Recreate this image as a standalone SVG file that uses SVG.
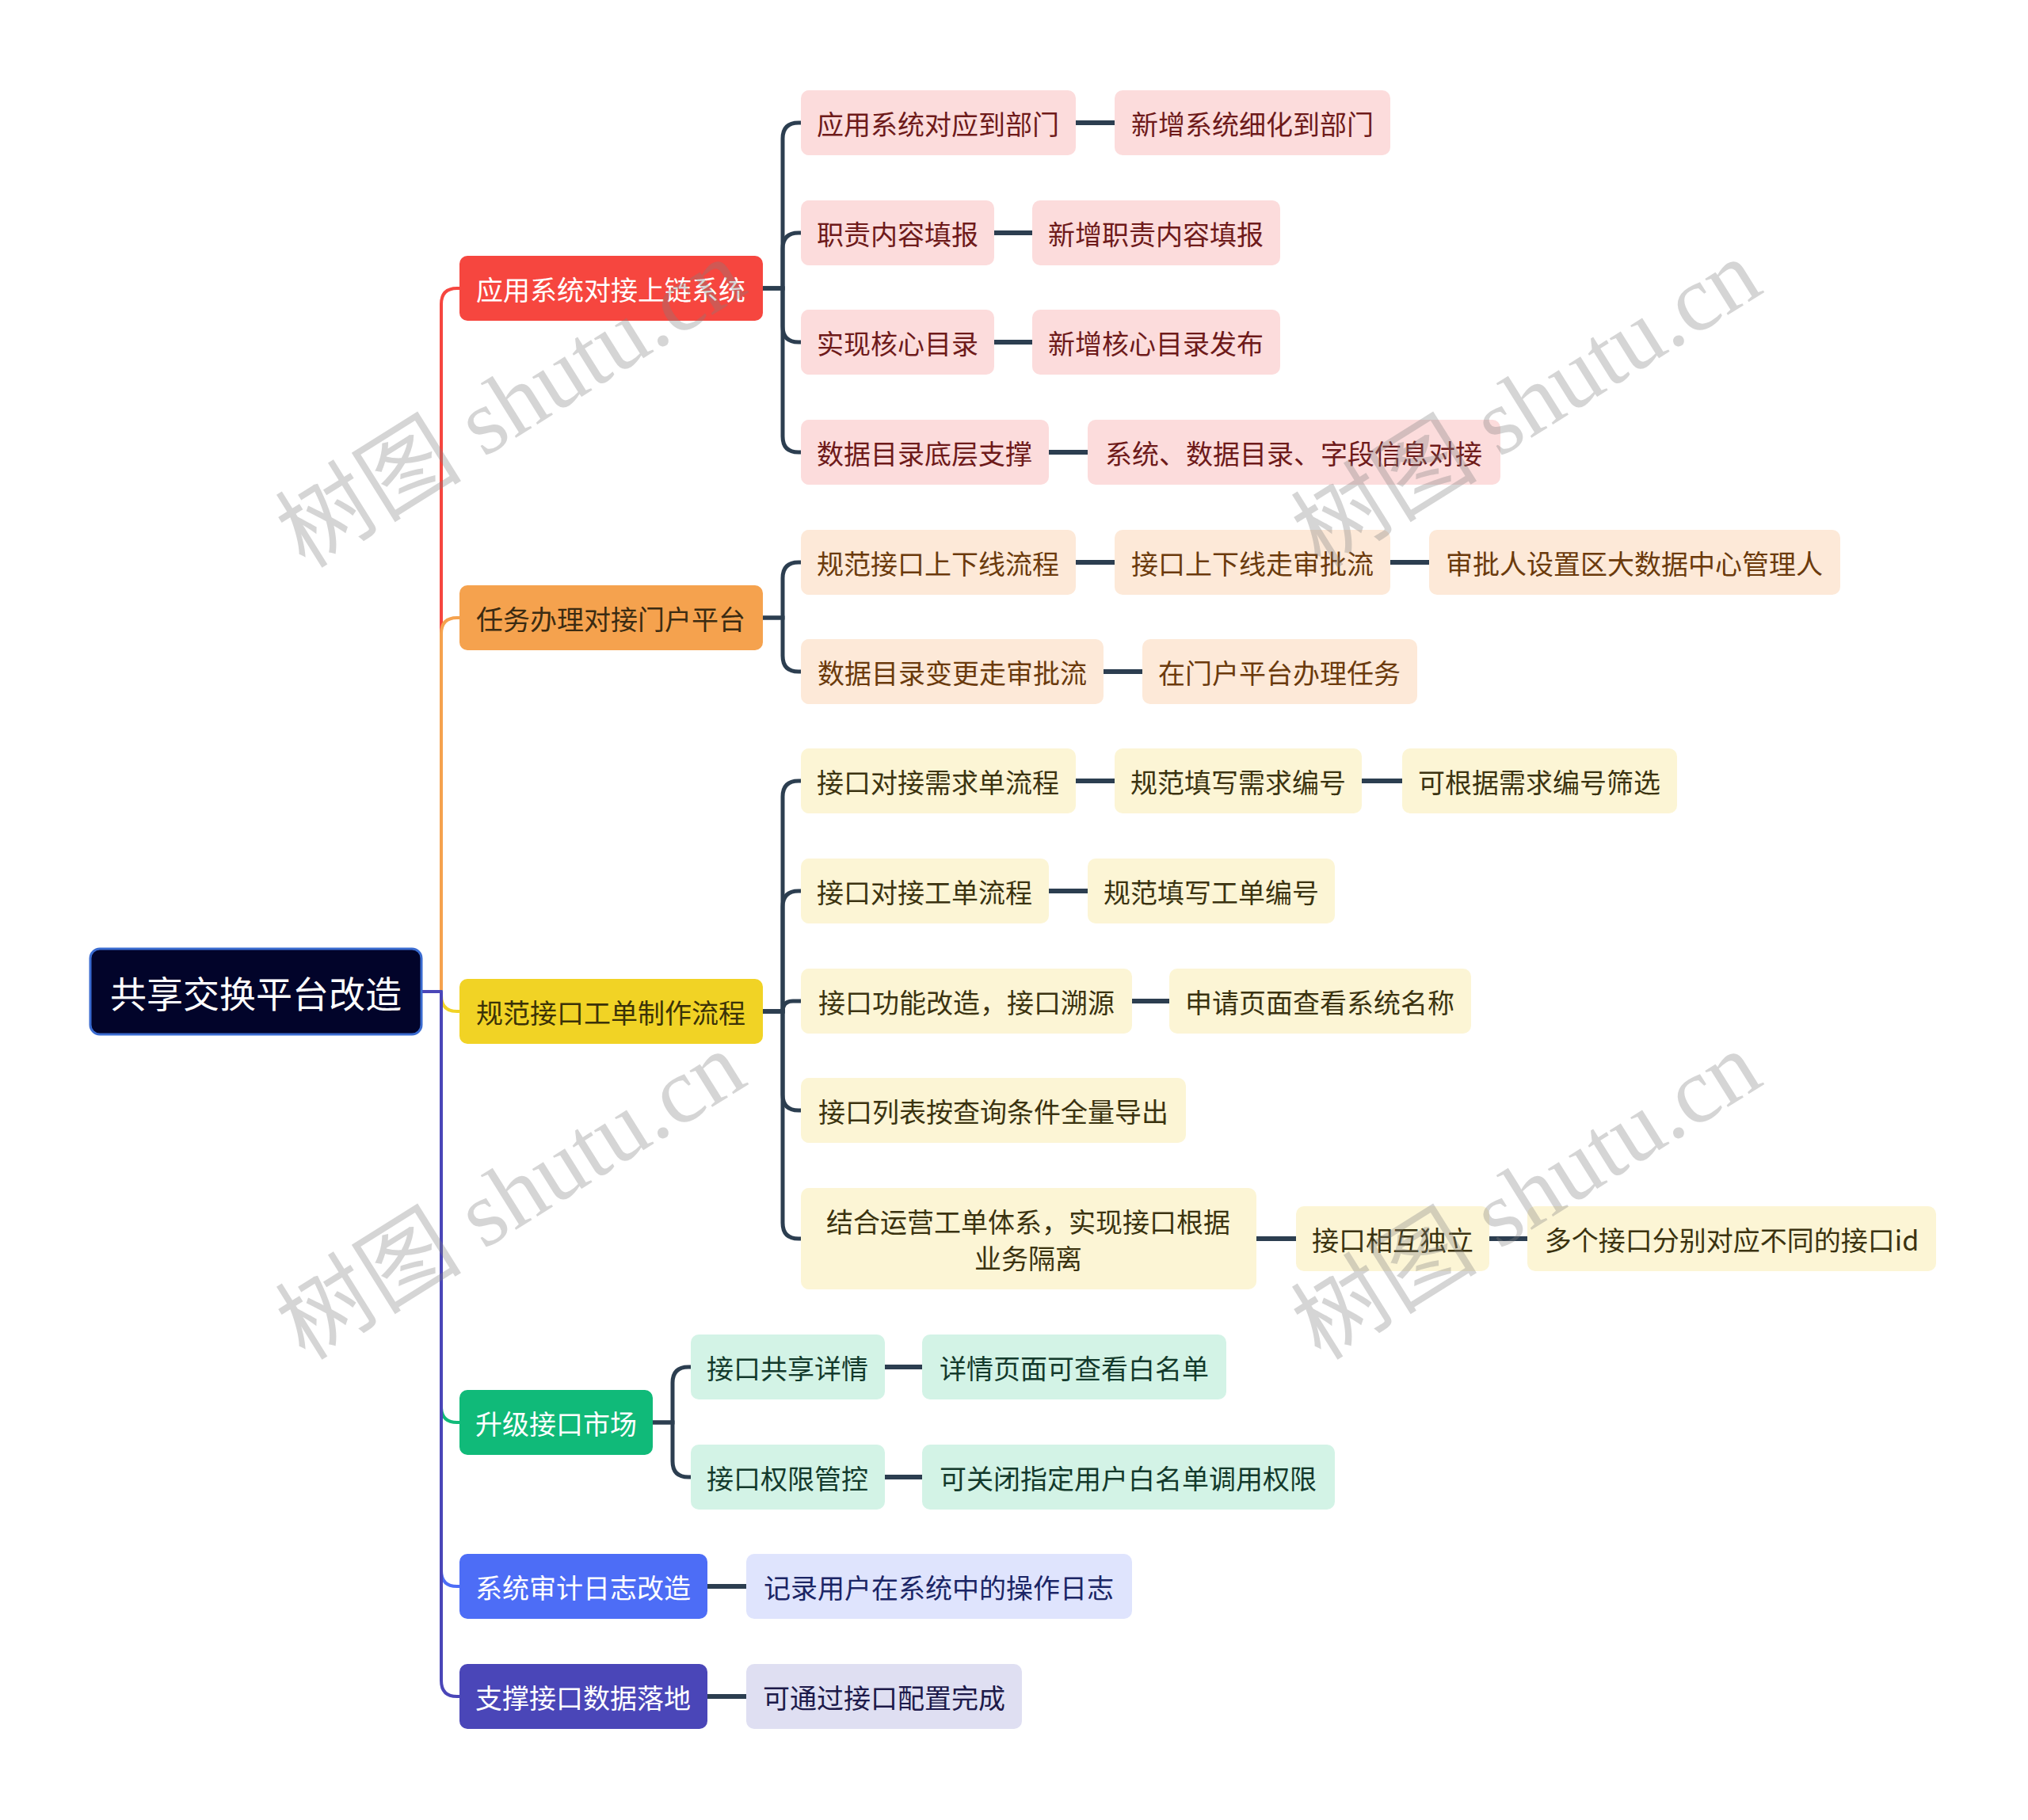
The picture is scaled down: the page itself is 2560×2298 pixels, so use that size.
<svg xmlns="http://www.w3.org/2000/svg" width="2560" height="2298" viewBox="0 0 2560 2298">
<style>
text{font-family:"Noto Sans CJK SC","Noto Sans",sans-serif;font-size:34px;text-anchor:middle;dominant-baseline:central}
.root text{font-size:46px;fill:#fff}
.w{fill:#fff}
.trunk{fill:none;stroke-width:4;stroke-linejoin:round}
.br{fill:none;stroke:#2c3e50;stroke-width:5}
.ln{fill:none;stroke:#2c3e50;stroke-width:6}
.g1 rect{fill:#fcdcdc}.g1 text{fill:#6e1a1a}
.g2 rect{fill:#fde9d8}.g2 text{fill:#6b3a0c}
.g3 rect{fill:#fcf5d5}.g3 text{fill:#3b3310}
.g4 rect{fill:#d3f3e6}.g4 text{fill:#133a2c}
.wm{font-family:"Liberation Serif","Noto Sans CJK SC",serif;font-size:118px;fill:#808080;fill-opacity:0.33}
</style>
<g id="connectors">
<path class="trunk" stroke="#f6463f" d="M532 1252 H557 V384 Q557 364 577 364 H580"/>
<path class="trunk" stroke="#f5a24e" d="M532 1252 H557 V800 Q557 780 577 780 H580"/>
<path class="trunk" stroke="#f1d325" d="M532 1252 H557 V1257 Q557 1277 577 1277 H580"/>
<path class="trunk" stroke="#10ba79" d="M532 1252 H557 V1776 Q557 1796 577 1796 H580"/>
<path class="trunk" stroke="#4d6df6" d="M532 1252 H557 V1983 Q557 2003 577 2003 H580"/>
<path class="trunk" stroke="#4a46b8" d="M532 1252 H557 V2122 Q557 2142 577 2142 H580"/>
<path class="br" d="M963 364 H988 V175 Q988 155 1008 155 H1011"/>
<path class="br" d="M963 364 H988 V314 Q988 294 1008 294 H1011"/>
<path class="br" d="M963 364 H988 V412 Q988 432 1008 432 H1011"/>
<path class="br" d="M963 364 H988 V551 Q988 571 1008 571 H1011"/>
<path class="br" d="M963 780 H988 V730 Q988 710 1008 710 H1011"/>
<path class="br" d="M963 780 H988 V828 Q988 848 1008 848 H1011"/>
<path class="br" d="M963 1277 H988 V1006 Q988 986 1008 986 H1011"/>
<path class="br" d="M963 1277 H988 V1145 Q988 1125 1008 1125 H1011"/>
<path class="br" d="M963 1277 H988 Q988 1264 1001 1264 H1011"/>
<path class="br" d="M963 1277 H988 V1382 Q988 1402 1008 1402 H1011"/>
<path class="br" d="M963 1277 H988 V1544 Q988 1564 1008 1564 H1011"/>
<path class="br" d="M824 1796 H849 V1746 Q849 1726 869 1726 H872"/>
<path class="br" d="M824 1796 H849 V1845 Q849 1865 869 1865 H872"/>
<path class="ln" d="M1358 155 H1407"/>
<path class="ln" d="M1255 294 H1303"/>
<path class="ln" d="M1255 432 H1303"/>
<path class="ln" d="M1324 571 H1373"/>
<path class="ln" d="M1358 710 H1407"/>
<path class="ln" d="M1755 710 H1804"/>
<path class="ln" d="M1393 848 H1442"/>
<path class="ln" d="M1358 986 H1407"/>
<path class="ln" d="M1719 986 H1770"/>
<path class="ln" d="M1324 1125 H1373"/>
<path class="ln" d="M1429 1264 H1476"/>
<path class="ln" d="M1586 1564 H1636"/>
<path class="ln" d="M1880 1564 H1928"/>
<path class="ln" d="M1117 1726 H1164"/>
<path class="ln" d="M1117 1865 H1164"/>
<path class="ln" d="M893 2003 H942"/>
<path class="ln" d="M893 2142 H942"/>
</g>
<g id="root" class="root"><rect x="114" y="1198" width="418" height="108" rx="12" fill="#02042a" stroke="#3a6bd0" stroke-width="3"/><text x="323" y="1252">共享交换平台改造</text></g>
<g id="n1"><rect x="580" y="323" width="383" height="82" rx="10" fill="#f6463f"/><text class="w" x="771" y="364">应用系统对接上链系统</text></g>
<g id="n2"><rect x="580" y="739" width="383" height="82" rx="10" fill="#f5a24e"/><text x="771" y="780" fill="#3b2b12">任务办理对接门户平台</text></g>
<g id="n3"><rect x="580" y="1236" width="383" height="82" rx="10" fill="#f1d325"/><text x="771" y="1277" fill="#3b3208">规范接口工单制作流程</text></g>
<g id="n4"><rect x="580" y="1755" width="244" height="82" rx="10" fill="#10ba79"/><text class="w" x="702" y="1796">升级接口市场</text></g>
<g id="n5"><rect x="580" y="1962" width="313" height="82" rx="10" fill="#4d6df6"/><text class="w" x="736" y="2003">系统审计日志改造</text></g>
<g id="n6"><rect x="580" y="2101" width="313" height="82" rx="10" fill="#4a46b8"/><text class="w" x="736" y="2142">支撑接口数据落地</text></g>
<g class="g1">
<g id="a1"><rect x="1011" y="114" width="347" height="82" rx="10"/><text x="1184" y="155">应用系统对应到部门</text></g>
<g id="a1b"><rect x="1407" y="114" width="348" height="82" rx="10"/><text x="1581" y="155">新增系统细化到部门</text></g>
<g id="a2"><rect x="1011" y="253" width="244" height="82" rx="10"/><text x="1133" y="294">职责内容填报</text></g>
<g id="a2b"><rect x="1303" y="253" width="313" height="82" rx="10"/><text x="1459" y="294">新增职责内容填报</text></g>
<g id="a3"><rect x="1011" y="391" width="244" height="82" rx="10"/><text x="1133" y="432">实现核心目录</text></g>
<g id="a3b"><rect x="1303" y="391" width="313" height="82" rx="10"/><text x="1459" y="432">新增核心目录发布</text></g>
<g id="a4"><rect x="1011" y="530" width="313" height="82" rx="10"/><text x="1167" y="571">数据目录底层支撑</text></g>
<g id="a4b"><rect x="1373" y="530" width="521" height="82" rx="10"/><text x="1633" y="571">系统、数据目录、字段信息对接</text></g>
</g>
<g class="g2">
<g id="b1"><rect x="1011" y="669" width="347" height="82" rx="10"/><text x="1184" y="710">规范接口上下线流程</text></g>
<g id="b1b"><rect x="1407" y="669" width="348" height="82" rx="10"/><text x="1581" y="710">接口上下线走审批流</text></g>
<g id="b1c"><rect x="1804" y="669" width="519" height="82" rx="10"/><text x="2063" y="710">审批人设置区大数据中心管理人</text></g>
<g id="b2"><rect x="1011" y="807" width="382" height="82" rx="10"/><text x="1202" y="848">数据目录变更走审批流</text></g>
<g id="b2b"><rect x="1442" y="807" width="347" height="82" rx="10"/><text x="1615" y="848">在门户平台办理任务</text></g>
</g>
<g class="g3">
<g id="c1"><rect x="1011" y="945" width="347" height="82" rx="10"/><text x="1184" y="986">接口对接需求单流程</text></g>
<g id="c1b"><rect x="1407" y="945" width="312" height="82" rx="10"/><text x="1563" y="986">规范填写需求编号</text></g>
<g id="c1c"><rect x="1770" y="945" width="347" height="82" rx="10"/><text x="1943" y="986">可根据需求编号筛选</text></g>
<g id="c2"><rect x="1011" y="1084" width="313" height="82" rx="10"/><text x="1167" y="1125">接口对接工单流程</text></g>
<g id="c2b"><rect x="1373" y="1084" width="312" height="82" rx="10"/><text x="1529" y="1125">规范填写工单编号</text></g>
<g id="c3"><rect x="1011" y="1223" width="418" height="82" rx="10"/><text x="1220" y="1264">接口功能改造，接口溯源</text></g>
<g id="c3b"><rect x="1476" y="1223" width="381" height="82" rx="10"/><text x="1666" y="1264">申请页面查看系统名称</text></g>
<g id="c4"><rect x="1011" y="1361" width="486" height="82" rx="10"/><text x="1254" y="1402">接口列表按查询条件全量导出</text></g>
<g id="c5"><rect x="1011" y="1500" width="575" height="128" rx="10"/><text x="1298" y="1541">结合运营工单体系，实现接口根据</text><text x="1298" y="1587">业务隔离</text></g>
<g id="c5b"><rect x="1636" y="1523" width="244" height="82" rx="10"/><text x="1758" y="1564">接口相互独立</text></g>
<g id="c5c"><rect x="1928" y="1523" width="516" height="82" rx="10"/><text x="2186" y="1564">多个接口分别对应不同的接口id</text></g>
</g>
<g class="g4">
<g id="d1"><rect x="872" y="1685" width="245" height="82" rx="10"/><text x="994" y="1726">接口共享详情</text></g>
<g id="d1b"><rect x="1164" y="1685" width="384" height="82" rx="10"/><text x="1356" y="1726">详情页面可查看白名单</text></g>
<g id="d2"><rect x="872" y="1824" width="245" height="82" rx="10"/><text x="994" y="1865">接口权限管控</text></g>
<g id="d2b"><rect x="1164" y="1824" width="521" height="82" rx="10"/><text x="1424" y="1865">可关闭指定用户白名单调用权限</text></g>
</g>
<g id="e1"><rect x="942" y="1962" width="487" height="82" rx="10" fill="#dfe4fd"/><text x="1185" y="2003" fill="#1b2565">记录用户在系统中的操作日志</text></g>
<g id="f1"><rect x="942" y="2101" width="348" height="82" rx="10" fill="#dfdff2"/><text x="1116" y="2142" fill="#1d1a4a">可通过接口配置完成</text></g>
<g id="watermarks">
<text class="wm" transform="translate(645 510) rotate(-32)">树图 shutu.cn</text>
<text class="wm" transform="translate(1927 510) rotate(-32)">树图 shutu.cn</text>
<text class="wm" transform="translate(645 1510) rotate(-32)">树图 shutu.cn</text>
<text class="wm" transform="translate(1927 1510) rotate(-32)">树图 shutu.cn</text>
</g>
</svg>
